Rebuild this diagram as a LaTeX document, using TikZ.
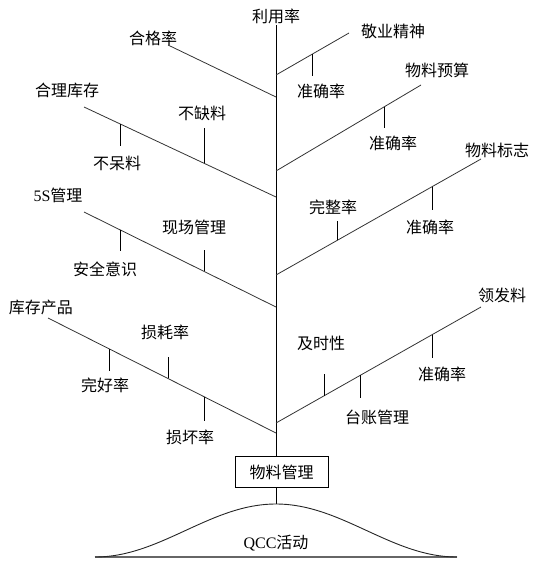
\documentclass[tikz,border=0pt]{standalone}
\usepackage{fontspec}
\setmainfont{Liberation Serif}
\newfontfamily\cjk{Noto Sans CJK SC}
\usetikzlibrary{calc}
\begin{document}
\begin{tikzpicture}[x=1pt,y=-1pt,
  lbl/.style={font=\cjk\fontsize{16}{19}\selectfont, inner sep=0pt},
  br/.style={draw=black!80, line width=0.8pt},
  tk/.style={draw=black, line width=0.8pt},
  trunkline/.style={draw=black, line width=0.9pt},
  boxnode/.style={draw=black, line width=0.8pt, minimum width=93pt, minimum height=31pt, inner sep=0pt}]
\useasboundingbox (0,0) rectangle (540,562);
% labels
\node[lbl] (lly) at (276,16) {利用率};
\node[lbl] (hgl) at (153,38) {合格率};
\node[lbl] (hlkc) at (67,90) {合理库存};
\node[lbl] (bdl) at (117,163) {不呆料};
\node[lbl] (bql) at (202,113) {不缺料};
\node[lbl] (fs) at (58,195) {{\rmfamily 5S}管理};
\node[lbl] (aqys) at (105,269) {安全意识};
\node[lbl] (xcgl) at (194,227) {现场管理};
\node[lbl] (kccp) at (41,307) {库存产品};
\node[lbl] (whl) at (105,385) {完好率};
\node[lbl] (shl) at (165,332) {损耗率};
\node[lbl] (shhl) at (190,437) {损坏率};
\node[lbl] (jyjs) at (393,31) {敬业精神};
\node[lbl] (zqa) at (321,91) {准确率};
\node[lbl] (llys) at (437,70) {物料预算};
\node[lbl] (zqb) at (393,143) {准确率};
\node[lbl] (llbz) at (497,150) {物料标志};
\node[lbl] (zqc) at (430,227) {准确率};
\node[lbl] (wzl) at (333,207) {完整率};
\node[lbl] (lfl) at (502,295) {领发料};
\node[lbl] (zqd) at (442,374) {准确率};
\node[lbl] (jsx) at (321,343) {及时性};
\node[lbl] (tzgl) at (377,417) {台账管理};
\node[lbl,boxnode] (box) at (281.5,472) {物料管理};
\node[lbl] (qcc) at (276,543) {{\rmfamily QCC}活动};
% trunk
\coordinate (ttop) at (276,25);
\coordinate (bell) at (276,504);
\draw[trunkline] (ttop) -- (ttop |- box.north);
\draw[trunkline] (ttop |- box.south) -- (bell);
% branch end points
\coordinate (la1) at (168,45);  \coordinate (lb1) at (276,97);
\coordinate (la2) at (84,107);  \coordinate (lb2) at (276,197);
\coordinate (la3) at (84,212);  \coordinate (lb3) at (276,307);
\coordinate (la4) at (48,318);  \coordinate (lb4) at (276,433);
\coordinate (ra1) at (276,75);  \coordinate (rb1) at (349,33);
\coordinate (ra2) at (276,171); \coordinate (rb2) at (421,85);
\coordinate (ra3) at (276,275); \coordinate (rb3) at (481,159);
\coordinate (ra4) at (276,423); \coordinate (rb4) at (481,307);
\draw[br] (la1) -- (lb1);
\draw[br] (la2) -- (lb2);
\draw[br] (la3) -- (lb3);
\draw[br] (la4) -- (lb4);
\draw[br] (ra1) -- (rb1);
\draw[br] (ra2) -- (rb2);
\draw[br] (ra3) -- (rb3);
\draw[br] (ra4) -- (rb4);
% ticks
\draw[tk] ($(la2)!0.1875!(lb2)$) -- ++(0,22);
\draw[tk] ($(la2)!0.625!(lb2)$) -- ++(0,-35);
\draw[tk] ($(la3)!0.1875!(lb3)$) -- ++(0,21);
\draw[tk] ($(la3)!0.625!(lb3)$) -- ++(0,-21);
\draw[tk] ($(la4)!0.2675!(lb4)$) -- ++(0,22);
\draw[tk] ($(la4)!0.526!(lb4)$) -- ++(0,-21);
\draw[tk] ($(la4)!0.684!(lb4)$) -- ++(0,24);
\draw[tk] ($(ra1)!0.493!(rb1)$) -- ++(0,22);
\draw[tk] ($(ra2)!0.745!(rb2)$) -- ++(0,21);
\draw[tk] ($(ra3)!0.761!(rb3)$) -- ++(0,23);
\draw[tk] ($(ra3)!0.2976!(rb3)$) -- ++(0,-19);
\draw[tk] ($(ra4)!0.761!(rb4)$) -- ++(0,23);
\draw[tk] ($(ra4)!0.234!(rb4)$) -- ++(0,-22);
\draw[tk] ($(ra4)!0.41!(rb4)$) -- ++(0,23);
% bell curve
\draw[draw=black!60, line width=1.2pt] (95,557) -- (457,557);
\draw[draw=black!85, line width=0.9pt] plot[domain=-181:181, samples=120, smooth] ({276+\x}, {557-26.5*(1+cos(\x/181*180))});
\end{tikzpicture}
\end{document}
